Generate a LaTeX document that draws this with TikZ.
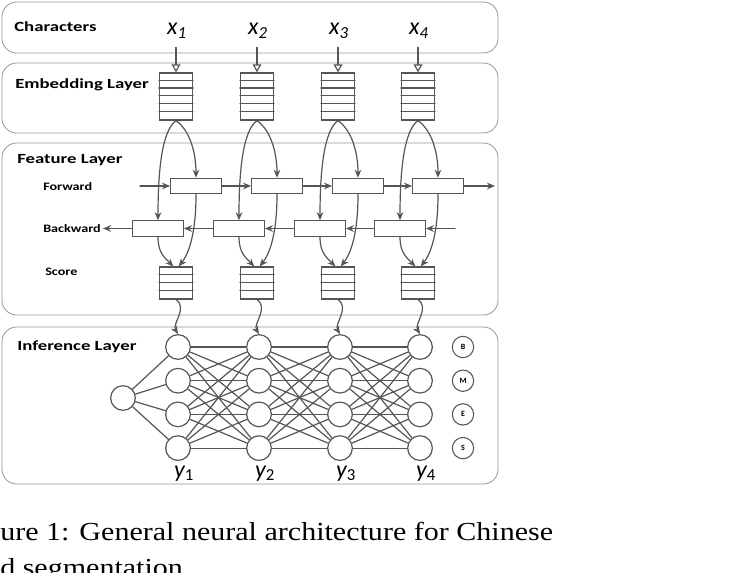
\documentclass[tikz,border=0pt]{standalone}
\usepackage{fontspec}
\setmainfont{Liberation Serif}
\newfontfamily\calib{Carlito}
\usetikzlibrary{arrows.meta}
\definecolor{dgray}{RGB}{85,85,85}
\definecolor{lgray}{RGB}{150,150,150}
\newcommand\widen[2]{\scalebox{#1}[1]{#2}}

\begin{document}
\begin{tikzpicture}[x=0.75pt,y=0.75pt,>={Stealth[length=6pt,width=5pt]},line cap=round,
	panel/.style={draw=lgray,line width=0.6pt,rounded corners=11pt},
	title/.style={anchor=west,inner sep=0pt,font=\calib\bfseries\fontsize{10.5}{12}\selectfont},
	sub/.style={anchor=west,inner sep=0pt,font=\calib\bfseries\fontsize{8.5}{10}\selectfont},
	var/.style={anchor=base,inner sep=0pt,font=\calib\fontsize{18}{20}\selectfont},
	vec/.style={draw=dgray,line width=0.9pt,minimum width=24.75pt,inner sep=0pt},
	cell/.style={draw=dgray,line width=0.9pt,minimum width=38pt,minimum height=11.5pt,inner sep=0pt},
	unit/.style={circle,draw=dgray,line width=0.9pt,minimum size=18.5pt,inner sep=0pt},
	tag/.style={circle,draw=dgray,line width=0.8pt,minimum size=16pt,inner sep=0pt,font=\calib\bfseries\fontsize{6}{6}\selectfont},
	link/.style={dgray,line width=0.9pt}]
	\useasboundingbox (0,0) rectangle (748,-573);
	% layers
	\draw[panel] (2,-2) rectangle (498,-53);
	\draw[panel] (2,-63) rectangle (498,-133);
	\draw[panel] (2,-143) rectangle (498,-315);
	\draw[panel] (2,-327) rectangle (498,-484);
	\node[title] (tc) at (14,-27) {\widen{1.34}{Characters}};
	\node[title] (te) at (15,-85) {\widen{1.34}{Embedding Layer}};
	\node[title] (tf) at (17,-160) {\widen{1.34}{Feature Layer}};
	\node[title] (ti) at (17,-347) {\widen{1.34}{Inference Layer}};
	\node[sub] (lf) at (43,-187) {\widen{1.25}{Forward}};
	\node[sub] (lb) at (43,-228.5) {\widen{1.25}{Backward}};
	\node[sub] (ls) at (45,-272) {\widen{1.25}{Score}};
	\foreach \c [count=\i] in {176,257,338,418}
	{\node[var] (x\i) at (\c+1,-35) {\itshape x\textsubscript{\i}};
		\node[vec,minimum height=35.25pt] (e\i) at (\c,-96.5) {};
		\foreach \k in {1,...,5}
		\draw[link] ([yshift=-\k*5.875pt]e\i.north west) -- ([yshift=-\k*5.875pt]e\i.north east);
		\coordinate (c\i) at ([yshift=18.75pt]e\i.north);
		\node[cell] (f\i) at (\c+20,-186) {};
		\node[cell] (b\i) at (\c-18,-228.5) {};
		\node[vec,minimum height=24pt] (s\i) at (\c,-283) {};
		\foreach \k in {1,...,3}
		\draw[link] ([yshift=-\k*6pt]s\i.north west) -- ([yshift=-\k*6pt]s\i.north east);
		\foreach \j/\r in {1/347,2/380.7,3/414.4,4/448.1}
		\node[unit] (u\i\j) at (\c+2,-\r) {};
		\node[var] (y\i) at (\c+8,-477) {{\itshape y}\textsubscript{\i}};}
	%\draw[help lines] (0,0) grid[step=50] (500,-500);
	\foreach \i in {1,...,4}
	{\draw[link,-{Triangle[open,length=6pt,width=6.5pt]}] (c\i) -- (e\i);
		\draw[link,->] (e\i.south) .. controls +(-14,-10) and +(0,50) .. (b\i.north);
		\draw[link,->] (e\i.south) .. controls +(14,-10) and +(0,25) .. (f\i.north);
		\draw[link,->] (b\i.south) .. controls +(0,-15) and +(-10,10) .. ([xshift=-2pt]s\i.north);
		\draw[link,->] (f\i.south) .. controls +(0,-45) and +(8,10) .. ([xshift=2pt]s\i.north);
		\draw[link,->] (s\i.south) .. controls +(12,-8) and +(-6,10) .. (u\i1.north);}
	% forward / backward chains
	\coordinate (fin) at (140,-186);
	\coordinate (fout) at (495,-186);
	\coordinate (bin) at (455,-228.5);
	\coordinate (bout) at (103,-228.5);
	\draw[link,->] (fin) -- (f1);
	\draw[link,->] (f4) -- (fout);
	\draw[link,->] (bin) -- (b4);
	\draw[link,->] (b1) -- (bout);
	\foreach \i/\j in {1/2,2/3,3/4}
	{\draw[link,->] (f\i) -- (f\j);
		\draw[link,->] (b\j) -- (b\i);}
	% inference lattice
	\node[unit] (st) at (123,-398) {};
	\foreach \j in {1,...,4} \draw[link] (st) -- (u1\j);
	\foreach \i/\n in {1/2,2/3,3/4}
	\foreach \j in {1,...,4}
	\foreach \k in {1,...,4}
	\draw[link] (u\i\j) -- (u\n\k);
	\foreach \t/\r in {B/347,M/380.7,E/414.4,S/448.1}
	\node[tag] (t\t) at (463,-\r) {\t};
	% caption
	\node[anchor=base west,inner sep=0pt,font=\fontsize{19.5}{22}\selectfont] (cap1) at (0,-540) {\widen{1.155}{ure 1: General neural architecture for Chinese}};
	\node[anchor=base west,inner sep=0pt,font=\fontsize{19.5}{22}\selectfont] (cap2) at (0,-576) {\widen{1.155}{d segmentation}};
\end{tikzpicture}
\end{document}
